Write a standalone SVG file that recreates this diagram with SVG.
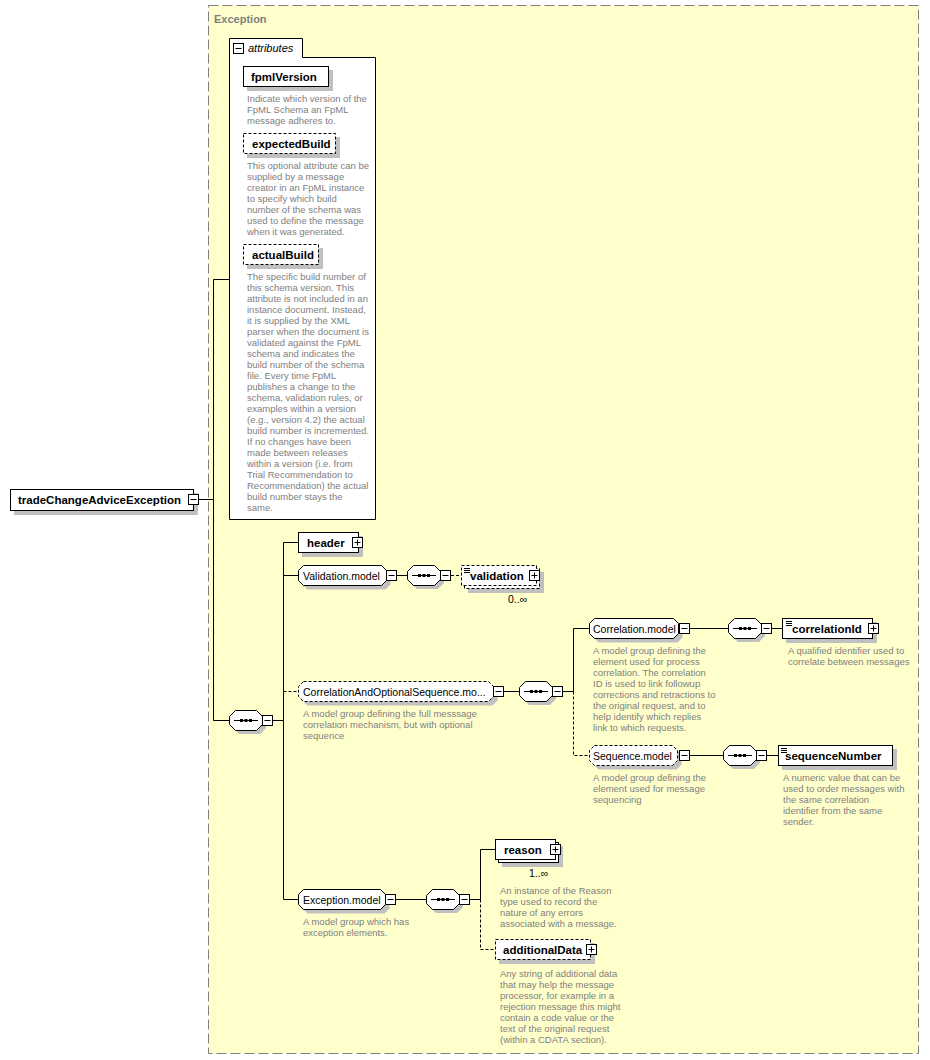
<svg xmlns="http://www.w3.org/2000/svg" xmlns:xlink="http://www.w3.org/1999/xlink" width="930" height="1060" viewBox="0 0 930 1060">
<style>
text{font-family:"Liberation Sans",Arial,sans-serif;}
.n{font-size:10.5px;fill:#000;}
.b{font-size:11.5px;font-weight:bold;fill:#000;}
.d{font-size:9.5px;fill:#808080;}
.box{fill:#fff;stroke:#000;stroke-width:1;}
.dbox{fill:#fff;stroke:#000;stroke-width:1;stroke-dasharray:3,2;}
.sh{fill:#c0c0c0;stroke:none;}
.c{fill:none;stroke:#000;stroke-width:1;}
.dc{fill:none;stroke:#000;stroke-width:1;stroke-dasharray:3,2;}
</style>
<defs>
<g id="minus"><rect x="0.5" y="0.5" width="10" height="10" fill="#fff" stroke="#000"/><path d="M2.5,5.5H8.5" stroke="#000"/></g>
<g id="plus"><rect x="0.5" y="0.5" width="10" height="10" fill="#fff" stroke="#000"/><path d="M2.5,5.5H8.5M5.5,2.5V8.5" stroke="#000"/></g>
<g id="seq"><path d="M6.5,0.5H27.5L33.5,6.5V14.5L27.5,20.5H6.5L0.5,14.5V6.5Z" fill="#fff" stroke="#000"/><path d="M5,10.5H29" stroke="#000"/><rect x="11" y="9" width="3" height="3" fill="#000"/><rect x="15.5" y="9" width="3" height="3" fill="#000"/><rect x="20" y="9" width="3" height="3" fill="#000"/></g>
<path id="seqsh" d="M6,0H27L33,6V14L27,20H6L0,14V6Z" fill="#c0c0c0"/>
<g id="list"><path d="M0,0.5H6M0,2.5H6M0,4.5H6" stroke="#000"/></g>
</defs>

<g id="exception-container">
<rect x="208.5" y="5.5" width="710" height="1048" fill="#ffffcc" stroke="#808080" stroke-dasharray="10,4"/>
<text x="214" y="23" style="font-size:11px;font-weight:bold;fill:#808080">Exception</text>
</g>

<g id="connectors">
<path class="c" d="M199,499.5H213.5M213.5,279.5V720.5M213.5,279.5H229.5M213.5,720.5H229.5"/>
<path class="c" d="M273,720.5H283.5M283.5,542.5V899.5M283.5,542.5H298.5M283.5,575.5H298.5M283.5,899.5H298.5"/>
<path class="dc" d="M283.5,691.5H298.5"/>
<path class="c" d="M397,575.5H407.5"/>
<path class="dc" d="M451,575.5H461.5"/>
<path class="c" d="M504,691.5H519.5M563,691.5H573.5M573.5,628.5V691.5M573.5,628.5H589.5"/>
<path class="dc" d="M573.5,691.5V755.5H589.5"/>
<path class="c" d="M690,628.5H728.5M772,628.5H782.5"/>
<path class="c" d="M690,755.5H723.5M767,755.5H778.5"/>
<path class="c" d="M396,899.5H426.5M470,899.5H480.5M480.5,849.5V899.5M480.5,849.5H495.5"/>
<path class="dc" d="M480.5,899.5V949.5H495.5"/>
</g>

<g id="tradeChangeAdviceException">
<rect class="sh" x="14" y="493" width="184" height="22"/>
<rect class="box" x="10.5" y="489.5" width="183" height="21"/>
<text class="b" x="18" y="504">tradeChangeAdviceException</text>
<use href="#minus" x="188" y="494"/>
</g>

<g id="attributes">
<path class="box" d="M229.5,519.5V38.5H302.5V57.5H375.5V519.5Z"/>
<use href="#minus" x="233" y="43"/>
<text x="248" y="52" style="font-size:11px;font-style:italic">attributes</text>
</g>

<g id="fpmlVersion">
<rect class="sh" x="247" y="70" width="86" height="21"/>
<rect class="box" x="243.5" y="66.5" width="85" height="20"/>
<text class="b" x="251" y="81">fpmlVersion</text>
<text class="d"><tspan x="247" y="101.5">Indicate which version of the</tspan><tspan x="247" y="112.5">FpML Schema an FpML</tspan><tspan x="247" y="123.5">message adheres to.</tspan></text>
</g>

<g id="expectedBuild">
<rect class="sh" x="247" y="137" width="93" height="21"/>
<rect class="dbox" x="243.5" y="133.5" width="92" height="20"/>
<text class="b" x="252" y="148">expectedBuild</text>
<text class="d"><tspan x="247" y="168.5">This optional attribute can be</tspan><tspan x="247" y="179.5">supplied by a message</tspan><tspan x="247" y="190.5">creator in an FpML instance</tspan><tspan x="247" y="201.5">to specify which build</tspan><tspan x="247" y="212.5">number of the schema was</tspan><tspan x="247" y="223.5">used to define the message</tspan><tspan x="247" y="234.5">when it was generated.</tspan></text>
</g>

<g id="actualBuild">
<rect class="sh" x="247" y="248" width="76" height="21"/>
<rect class="dbox" x="243.5" y="244.5" width="75" height="20"/>
<text class="b" x="252" y="259">actualBuild</text>
<text class="d"><tspan x="247" y="279.5">The specific build number of</tspan><tspan x="247" y="290.5">this schema version. This</tspan><tspan x="247" y="301.5">attribute is not included in an</tspan><tspan x="247" y="312.5">instance document. Instead,</tspan><tspan x="247" y="323.5">it is supplied by the XML</tspan><tspan x="247" y="334.5">parser when the document is</tspan><tspan x="247" y="345.5">validated against the FpML</tspan><tspan x="247" y="356.5">schema and indicates the</tspan><tspan x="247" y="367.5">build number of the schema</tspan><tspan x="247" y="378.5">file. Every time FpML</tspan><tspan x="247" y="389.5">publishes a change to the</tspan><tspan x="247" y="400.5">schema, validation rules, or</tspan><tspan x="247" y="411.5">examples within a version</tspan><tspan x="247" y="422.5">(e.g., version 4.2) the actual</tspan><tspan x="247" y="433.5">build number is incremented.</tspan><tspan x="247" y="444.5">If no changes have been</tspan><tspan x="247" y="455.5">made between releases</tspan><tspan x="247" y="466.5">within a version (i.e. from</tspan><tspan x="247" y="477.5">Trial Recommendation to</tspan><tspan x="247" y="488.5">Recommendation) the actual</tspan><tspan x="247" y="499.5">build number stays the</tspan><tspan x="247" y="510.5">same.</tspan></text>
</g>

<g id="main-sequence">
<use href="#seqsh" x="233" y="714"/>
<use href="#seq" x="229" y="710"/>
<use href="#minus" x="262" y="715"/>
</g>

<g id="header">
<rect class="sh" x="302" y="536" width="61" height="21"/>
<rect class="box" x="298.5" y="532.5" width="60" height="20"/>
<text class="b" x="307" y="547">header</text>
<use href="#plus" x="352" y="537"/>
</g>

<g id="Validation.model">
<path class="sh" d="M307.5,569.5H385.5L390.5,574.5V584.5L385.5,589.5H307.5L302.5,584.5V574.5Z"/>
<path class="box" d="M303.5,565.5H381.5L386.5,570.5V580.5L381.5,585.5H303.5L298.5,580.5V570.5Z"/>
<text class="n" x="303" y="579.5">Validation.model</text>
<use href="#minus" x="386" y="570"/>
</g>

<g id="validation-sequence">
<use href="#seqsh" x="411" y="569"/>
<use href="#seq" x="407" y="565"/>
<use href="#minus" x="440" y="570"/>
</g>

<g id="validation">
<rect class="sh" x="468" y="572" width="76" height="21"/>
<rect class="dbox" x="464.5" y="568.5" width="75" height="20"/>
<rect class="dbox" x="461.5" y="565.5" width="75" height="20"/>
<use href="#list" x="464" y="568"/>
<text class="b" x="470" y="580">validation</text>
<use href="#plus" x="529" y="570"/>
<text class="n" x="508" y="603">0..∞</text>
</g>

<g id="CorrelationAndOptionalSequence.model">
<path class="sh" d="M307.5,685.5H492.5L497.5,690.5V700.5L492.5,705.5H307.5L302.5,700.5V690.5Z"/>
<path class="dbox" d="M303.5,681.5H488.5L493.5,686.5V696.5L488.5,701.5H303.5L298.5,696.5V686.5Z"/>
<text class="n" x="303" y="695.5">CorrelationAndOptionalSequence.mo...</text>
<use href="#minus" x="493" y="686"/>
<text class="d"><tspan x="303" y="717">A model group defining the full messsage</tspan><tspan x="303" y="728">correlation mechanism, but with optional</tspan><tspan x="303" y="739">sequence</tspan></text>
</g>

<g id="correlation-sequence">
<use href="#seqsh" x="523" y="685"/>
<use href="#seq" x="519" y="681"/>
<use href="#minus" x="552" y="686"/>
</g>

<g id="Correlation.model">
<path class="sh" d="M598.5,622.5H677.5L682.5,627.5V637.5L677.5,642.5H598.5L593.5,637.5V627.5Z"/>
<path class="box" d="M594.5,618.5H673.5L678.5,623.5V633.5L673.5,638.5H594.5L589.5,633.5V623.5Z"/>
<text class="n" x="593" y="632.5">Correlation.model</text>
<use href="#minus" x="679" y="623"/>
<text class="d"><tspan x="593" y="654">A model group defining the</tspan><tspan x="593" y="665">element used for process</tspan><tspan x="593" y="676">correlation. The correlation</tspan><tspan x="593" y="687">ID is used to link followup</tspan><tspan x="593" y="698">corrections and retractions to</tspan><tspan x="593" y="709">the original request, and to</tspan><tspan x="593" y="720">help identify which replies</tspan><tspan x="593" y="731">link to which requests.</tspan></text>
</g>

<g id="correlationId-sequence">
<use href="#seqsh" x="732" y="622"/>
<use href="#seq" x="728" y="618"/>
<use href="#minus" x="761" y="623"/>
</g>

<g id="correlationId">
<rect class="sh" x="786" y="622" width="91" height="21"/>
<rect class="box" x="782.5" y="618.5" width="90" height="20"/>
<use href="#list" x="786" y="621"/>
<text class="b" x="792" y="633">correlationId</text>
<use href="#plus" x="868" y="623"/>
<text class="d"><tspan x="788" y="654">A qualified identifier used to</tspan><tspan x="788" y="665">correlate between messages</tspan></text>
</g>

<g id="Sequence.model">
<path class="sh" d="M598.5,749.5H676.5L681.5,754.5V764.5L676.5,769.5H598.5L593.5,764.5V754.5Z"/>
<path class="dbox" d="M594.5,745.5H672.5L677.5,750.5V760.5L672.5,765.5H594.5L589.5,760.5V750.5Z"/>
<text class="n" x="593" y="759.5">Sequence.model</text>
<use href="#minus" x="679" y="750"/>
<text class="d"><tspan x="593" y="781">A model group defining the</tspan><tspan x="593" y="792">element used for message</tspan><tspan x="593" y="803">sequencing</tspan></text>
</g>

<g id="sequenceNumber-sequence">
<use href="#seqsh" x="727" y="749"/>
<use href="#seq" x="723" y="745"/>
<use href="#minus" x="756" y="750"/>
</g>

<g id="sequenceNumber">
<rect class="sh" x="782" y="749" width="115" height="21"/>
<rect class="box" x="778.5" y="745.5" width="114" height="20"/>
<use href="#list" x="781" y="748"/>
<text class="b" x="785" y="760">sequenceNumber</text>
<text class="d"><tspan x="783" y="781">A numeric value that can be</tspan><tspan x="783" y="792">used to order messages with</tspan><tspan x="783" y="803">the same correlation</tspan><tspan x="783" y="814">identifier from the same</tspan><tspan x="783" y="825">sender.</tspan></text>
</g>

<g id="Exception.model">
<path class="sh" d="M307.5,893.5H384.5L389.5,898.5V908.5L384.5,913.5H307.5L302.5,908.5V898.5Z"/>
<path class="box" d="M303.5,889.5H380.5L385.5,894.5V904.5L380.5,909.5H303.5L298.5,904.5V894.5Z"/>
<text class="n" x="303" y="903.5">Exception.model</text>
<use href="#minus" x="385" y="894"/>
<text class="d"><tspan x="303" y="925">A model group which has</tspan><tspan x="303" y="936">exception elements.</tspan></text>
</g>

<g id="exception-sequence">
<use href="#seqsh" x="430" y="893"/>
<use href="#seq" x="426" y="889"/>
<use href="#minus" x="459" y="894"/>
</g>

<g id="reason">
<rect class="sh" x="502" y="846" width="61" height="21"/>
<rect class="box" x="498.5" y="842.5" width="60" height="20"/>
<rect class="box" x="495.5" y="839.5" width="60" height="20"/>
<text class="b" x="504" y="854">reason</text>
<use href="#plus" x="550" y="844"/>
<text class="n" x="529" y="877">1..∞</text>
<text class="d"><tspan x="500" y="894">An instance of the Reason</tspan><tspan x="500" y="905">type used to record the</tspan><tspan x="500" y="916">nature of any errors</tspan><tspan x="500" y="927">associated with a message.</tspan></text>
</g>

<g id="additionalData">
<rect class="sh" x="499" y="943" width="96" height="21"/>
<rect class="dbox" x="495.5" y="939.5" width="95" height="20"/>
<text class="b" x="503" y="954">additionalData</text>
<use href="#plus" x="586" y="944"/>
<text class="d"><tspan x="500" y="977">Any string of additional data</tspan><tspan x="500" y="988">that may help the message</tspan><tspan x="500" y="999">processor, for example in a</tspan><tspan x="500" y="1010">rejection message this might</tspan><tspan x="500" y="1021">contain a code value or the</tspan><tspan x="500" y="1032">text of the original request</tspan><tspan x="500" y="1043">(within a CDATA section).</tspan></text>
</g>
</svg>
